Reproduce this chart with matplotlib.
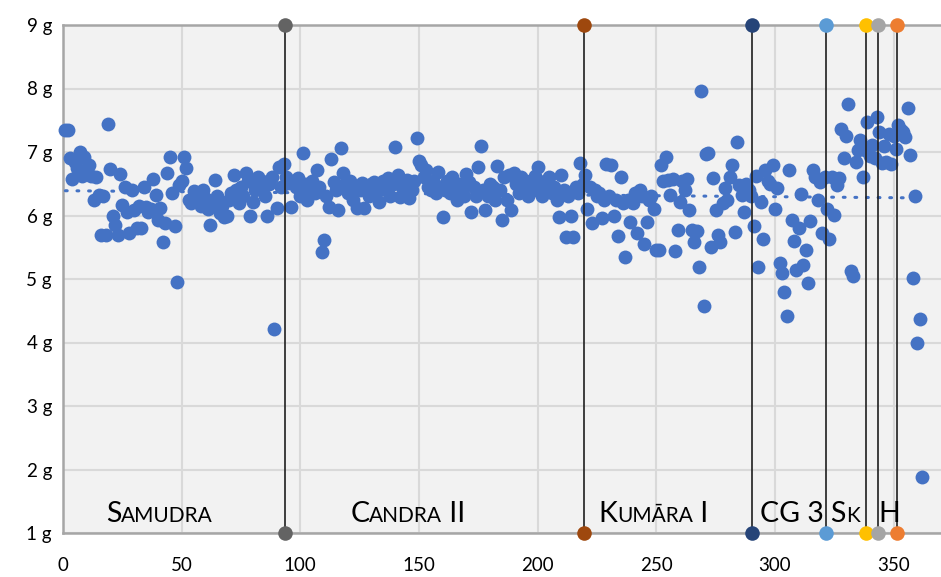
import numpy as np
import matplotlib
matplotlib.use("Agg")
import matplotlib.pyplot as plt
from matplotlib.offsetbox import TextArea, HPacker, AnnotationBbox

# ── Data ────────────────────────────────────────────────────────────────────

weights = [
    7.35, 7.35, 6.90, 6.57, 6.85, 6.75, 7.00, 6.62, 6.92, 6.70,
    6.80, 6.62, 6.24, 6.60, 6.33, 5.69, 6.30, 5.70, 7.44, 6.73,
    5.99, 5.85, 5.69, 6.65, 6.17, 6.45, 6.05, 5.72, 6.40, 6.08,
    5.80, 6.15, 5.80, 6.45, 6.13, 6.05, 6.10, 6.58, 6.32, 5.93,
    6.12, 5.58, 5.88, 6.67, 6.92, 6.35, 5.84, 4.96, 6.48, 6.55,
    6.92, 6.75, 6.25, 6.20, 6.38, 6.30, 6.22, 6.15, 6.40, 6.27,
    6.10, 5.85, 6.20, 6.56, 6.30, 6.04, 6.15, 5.98, 6.00, 6.25,
    6.35, 6.64, 6.40, 6.20, 6.45, 6.30, 6.67, 6.55, 6.00, 6.21,
    6.40, 6.60, 6.45, 6.55, 6.30, 5.99, 6.50, 6.61, 4.21, 6.12,
    6.76, 6.45, 6.81, 6.60, 6.51, 6.14, 6.55, 6.45, 6.59, 6.30,
    6.98, 6.50, 6.24, 6.40, 6.55, 6.35, 6.72, 6.45, 5.43, 5.61,
    6.30, 6.13, 6.89, 6.53, 6.40, 6.08, 7.06, 6.67, 6.50, 6.35,
    6.55, 6.25, 6.45, 6.12, 6.40, 6.51, 6.12, 6.45, 6.30, 6.50,
    6.53, 6.35, 6.22, 6.45, 6.55, 6.40, 6.59, 6.30, 6.50, 7.08,
    6.64, 6.29, 6.45, 6.50, 6.56, 6.27, 6.40, 6.55, 7.22, 6.86,
    6.80, 6.60, 6.72, 6.45, 6.40, 6.55, 6.35, 6.69, 6.45, 5.97,
    6.40, 6.55, 6.35, 6.61, 6.45, 6.24, 6.50, 6.40, 6.30, 6.66,
    6.53, 6.06, 6.45, 6.30, 6.77, 7.09, 6.40, 6.08, 6.30, 6.50,
    6.45, 6.25, 6.78, 6.40, 5.93, 6.60, 6.24, 6.64, 6.09, 6.67,
    6.50, 6.35, 6.60, 6.45, 6.55, 6.30, 6.50, 6.40, 6.62, 6.77,
    6.45, 6.30, 6.55, 6.40, 6.60, 6.35, 6.45, 6.25, 5.98, 6.64,
    6.40, 5.66, 6.30, 6.00, 5.66, 6.45, 6.35, 6.83, 6.50, 6.64,
    6.11, 6.45, 5.88, 6.40, 6.30, 6.35, 5.96, 6.25, 6.81, 6.30,
    6.80, 6.00, 6.25, 5.67, 6.60, 6.20, 5.35, 6.25, 5.90, 6.20,
    6.35, 5.73, 6.40, 6.30, 5.55, 5.90, 6.25, 6.30, 6.10, 5.46,
    5.46, 6.80, 6.55, 6.92, 6.56, 6.32, 6.58, 5.44, 5.77, 6.22,
    6.55, 6.40, 6.58, 6.09, 5.77, 5.59, 5.75, 5.19, 7.96, 4.58,
    6.97, 6.98, 5.51, 6.59, 6.09, 5.69, 5.59, 6.20, 6.43, 6.24,
    6.60, 6.80, 5.74, 7.15, 6.48, 6.32, 6.06, 6.50, 6.40, 6.30,
    5.84, 6.62, 5.19, 6.22, 5.63, 6.72, 6.55, 6.50, 6.80, 6.10,
    6.44, 5.25, 5.10, 4.80, 4.42, 6.72, 5.93, 5.60, 5.14, 5.80,
    6.34, 5.22, 5.46, 4.94, 5.92, 6.72, 6.60, 6.24, 6.53, 5.72,
    6.60, 6.11, 5.63, 6.61, 6.01, 6.48, 6.59, 7.37, 6.90, 7.25,
    7.75, 5.13, 5.04, 6.85, 7.03, 7.19, 6.60, 7.03, 7.47, 6.93,
    7.11, 6.90, 7.55, 7.32, 6.82, 7.10, 6.85, 7.28, 6.81, 7.25,
    7.04, 7.43, 7.35, 7.32, 7.23, 7.70, 6.95, 5.01, 6.30, 3.99,
    4.37, 1.88,
]
coin_no = np.arange(1, len(weights) + 1)

# reign boundaries (coin number) and marker colours
boundaries = [93.5, 219.5, 290.5, 321.5, 338.5, 343.5, 351.5]
boundary_colors = ["#636363", "#9E480E", "#264478", "#5B9BD5",
                   "#FFC000", "#A5A5A5", "#ED7D31"]

# reign labels: (x start, [(text, is_capital), ...])
reign_x = [18, 121, 225.5, 293.6, 323.4, 343.5]
reign_parts = [
    [("S", True), ("AMUDRA", False)],
    [("C", True), ("ANDRA", False), (" II", True)],
    [("K", True), ("UMĀRA", False), (" I", True)],
    [("CG 3", True)],
    [("S", True), ("K", False)],
    [("H", True)],
]

x_ticks = [0, 50, 100, 150, 200, 250, 300, 350]
y_ticks = [1, 2, 3, 4, 5, 6, 7, 8, 9]

# ── Plot ─────────────────────────────────────────────────────────────────────

plt.rcParams["font.family"] = ["Lato", "DejaVu Sans"]

BLUE = "#4472C4"

fig = plt.figure(figsize=(9.41, 5.77), dpi=100)
ax = fig.add_axes([63 / 941, 44 / 577, 878 / 941, 508 / 577])
ax.set_facecolor("#F2F2F2")

ax.scatter(coin_no, weights, s=100, color=BLUE, linewidths=0, zorder=3,
           clip_on=False)

# linear trend line
slope, intercept = np.polyfit(coin_no, weights, 1)
tx = np.array([coin_no[0], coin_no[-1]])
ax.plot(tx, slope * tx + intercept, color=BLUE, linewidth=2.2,
        linestyle=(0, (0.6, 3.2)), dash_capstyle="round", zorder=4)

# reign boundaries
for xb, c in zip(boundaries, boundary_colors):
    ax.plot([xb, xb], [1, 9], color="#1F1F1F", linewidth=1.2, zorder=5)
    ax.scatter([xb, xb], [1, 9], s=110, color=c, linewidths=0,
               zorder=6, clip_on=False)

# reign labels in small caps
for xl, parts in zip(reign_x, reign_parts):
    boxes = [TextArea(t, textprops=dict(fontsize=20.5 if cap else 15,
                                        color="black"))
             for t, cap in parts]
    pack = HPacker(children=boxes, align="baseline", pad=0, sep=0)
    ab = AnnotationBbox(pack, (xl, 1.1), xycoords="data",
                        box_alignment=(0, 0), frameon=False, pad=0,
                        zorder=7)
    ax.add_artist(ab)

# ── Styling ──────────────────────────────────────────────────────────────────

ax.set_xlim(0, 370)
ax.set_ylim(1, 9)
ax.set_xticks(x_ticks)
ax.set_yticks(y_ticks)
ax.set_yticklabels([f"{v} g" for v in y_ticks])
ax.tick_params(length=0, labelsize=13.5)
ax.tick_params(axis="x", pad=17)
ax.tick_params(axis="y", pad=8)

ax.grid(True, color="#D9D9D9", linewidth=1.5, zorder=0)
ax.set_axisbelow(True)

for side in ["left", "bottom", "top"]:
    ax.spines[side].set_color("#A6A6A6")
    ax.spines[side].set_linewidth(1.8)
ax.spines["right"].set_visible(False)

fig.savefig("out.png", dpi=100)
